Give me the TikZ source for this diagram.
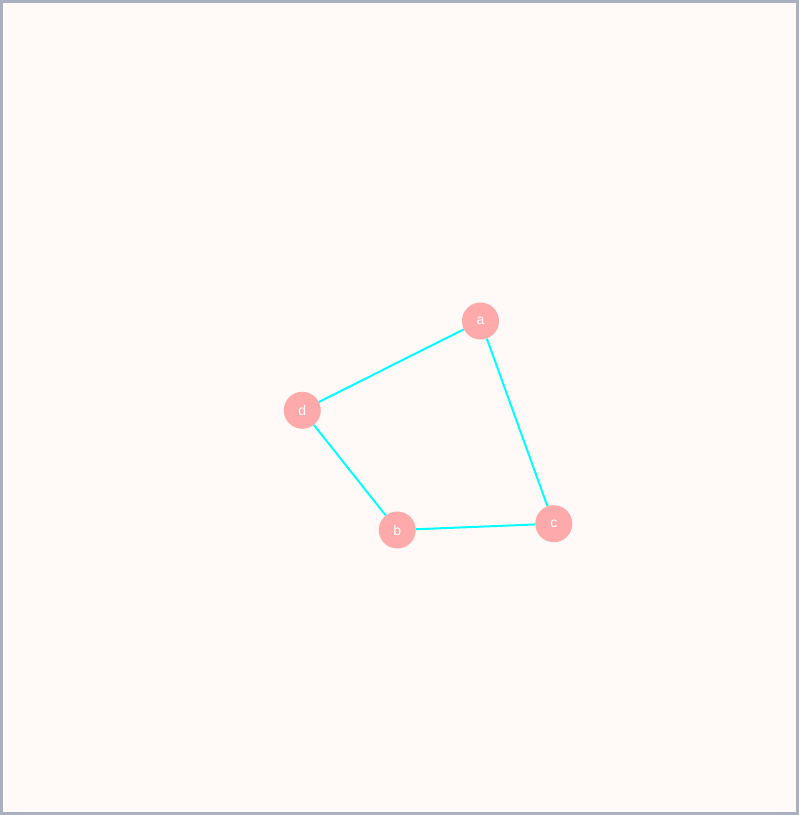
\documentclass[tikz,border=0pt]{standalone}
\usepackage{fontspec}
\setsansfont{Liberation Sans}
\usepackage{xcolor}
\definecolor{bgpaper}{HTML}{FFFAF8}
\definecolor{frameline}{HTML}{A9B0BF}
\definecolor{vertexfill}{HTML}{FFAAAA}
\definecolor{edgecyan}{HTML}{00FFFF}

\begin{document}
\begin{tikzpicture}[
  x=1pt, y=-1pt,
  vertex/.style={circle, fill=vertexfill, minimum size=37pt, inner sep=0pt,
    font=\sffamily\fontsize{14}{14}\selectfont, text=white},
  edge/.style={edgecyan, line width=2pt}
]
\useasboundingbox (0,0) rectangle (799,815);
\fill[bgpaper] (0,0) rectangle (799,815);
\draw[frameline, line width=3pt] (1.5,1.5) rectangle (797.5,813.5);

\node[vertex] (a) at (480.5,321) {a};
\node[vertex] (d) at (302.3,410.3) {d};
\node[vertex] (b) at (397.3,530) {b};
\node[vertex] (c) at (553.8,523.7) {c};

\draw[edge] (a) -- (d);
\draw[edge] (d) -- (b);
\draw[edge] (b) -- (c);
\draw[edge] (c) -- (a);
\end{tikzpicture}
\end{document}
